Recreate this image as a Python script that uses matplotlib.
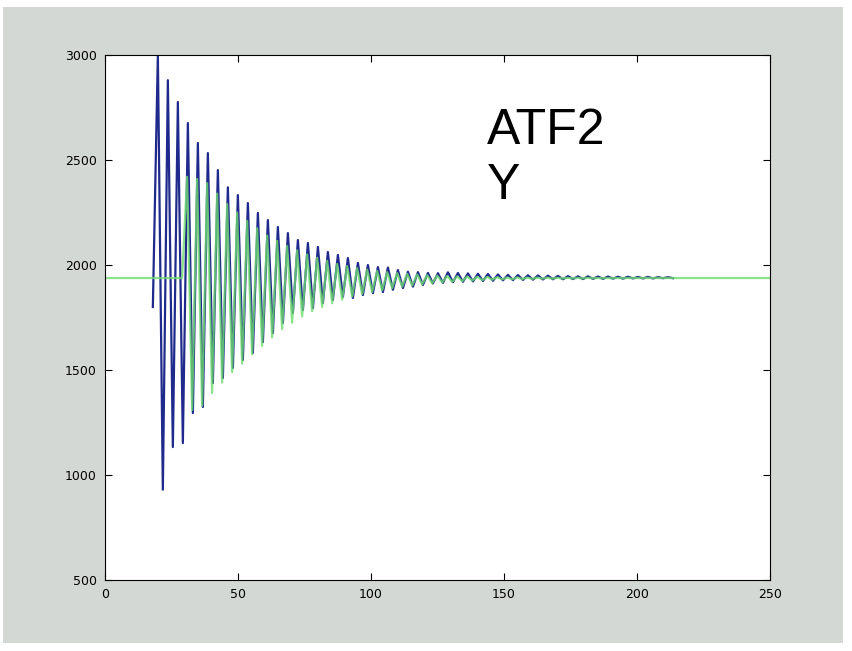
import numpy as np
import matplotlib.pyplot as plt
from matplotlib.patches import Rectangle

# values (peaks / troughs of each oscillation)
blue_start = 1800
blue_peaks = [3000, 2880, 2776, 2676, 2581, 2533, 2452, 2370, 2333, 2295,
              2248, 2214, 2181, 2152, 2119, 2105, 2086, 2062, 2048, 2033,
              2010, 2000, 1990, 1988, 1976, 1968, 1966, 1962, 1961, 1965,
              1962, 1960, 1958, 1957, 1955, 1953, 1952, 1951, 1950, 1949,
              1948, 1947, 1946, 1946, 1945, 1945, 1944, 1944, 1943, 1943,
              1942, 1942]
blue_troughs = [930, 1133, 1152, 1295, 1324, 1438, 1462, 1510, 1548, 1581,
                1633, 1676, 1724, 1771, 1786, 1795, 1819, 1833, 1848, 1843,
                1857, 1866, 1871, 1882, 1890, 1897, 1905, 1912, 1915, 1918,
                1920, 1922, 1924, 1925, 1927, 1928, 1929, 1930, 1931, 1932,
                1932, 1933, 1933, 1934, 1934, 1935, 1935, 1936, 1936, 1936,
                1937, 1937]

green_level = 1938
green_peaks = [2420, 2410, 2390, 2340, 2290, 2250, 2210, 2175, 2140, 2115,
               2090, 2070, 2050, 2035, 2020, 2005, 1995, 1985, 1978, 1972,
               1966, 1962, 1958, 1955, 1952, 1950, 1948, 1946, 1945, 1944,
               1943, 1942, 1941, 1941, 1940, 1940, 1940, 1939, 1939, 1939,
               1939, 1938, 1938, 1938, 1938, 1938, 1938]
green_troughs = [1310, 1330, 1390, 1440, 1490, 1530, 1575, 1615, 1655, 1695,
                 1725, 1755, 1780, 1800, 1818, 1835, 1850, 1862, 1872, 1880,
                 1890, 1897, 1903, 1908, 1913, 1917, 1920, 1923, 1926, 1928,
                 1930, 1931, 1932, 1933, 1934, 1935, 1935, 1936, 1936, 1936,
                 1937, 1937, 1937, 1937, 1938, 1938, 1938]

half_period = 1.88
blue_x0 = 18
green_x0 = 29
x_end = 250

xticks = [0, 50, 100, 150, 200, 250]
yticks = [500, 1000, 1500, 2000, 2500, 3000]

blue_y = [blue_start] + [v for pair in zip(blue_peaks, blue_troughs) for v in pair]
blue_x = blue_x0 + half_period * np.arange(len(blue_y))

osc = [v for pair in zip(green_peaks, green_troughs) for v in pair]
green_y = [green_level, green_level] + osc + [green_level, green_level]
green_x = np.concatenate([[0, green_x0],
                          green_x0 + half_period * np.arange(1, len(osc) + 2),
                          [x_end]])

fig = plt.figure(figsize=(8.52, 6.51), dpi=100)
fig.patch.set_facecolor('white')
fig.patches.append(Rectangle((0.004, 0.012), 0.985, 0.978, transform=fig.transFigure,
                             facecolor='#d4d8d4', edgecolor='none', zorder=-1))

ax = fig.add_axes([0.1232, 0.1091, 0.7806, 0.8064])
ax.set_facecolor('white')
ax.plot(blue_x, blue_y, color='#1f2a8c', lw=1.6)
ax.plot(green_x, green_y, color='#70dc70', lw=1.6, alpha=0.8)

ax.text(143.5, 2750, 'ATF2\nY', fontsize=36, family='Liberation Sans',
        va='top', ha='left', linespacing=1.25)

ax.set_xlim(0, 250)
ax.set_ylim(500, 3000)
ax.set_xticks(xticks)
ax.set_yticks(yticks)
ax.tick_params(direction='in', top=True, right=True, length=5, width=0.8,
               labelsize=9, pad=6)
for sp in ax.spines.values():
    sp.set_linewidth(0.8)

plt.savefig('out.png', dpi=100, facecolor=fig.get_facecolor())
